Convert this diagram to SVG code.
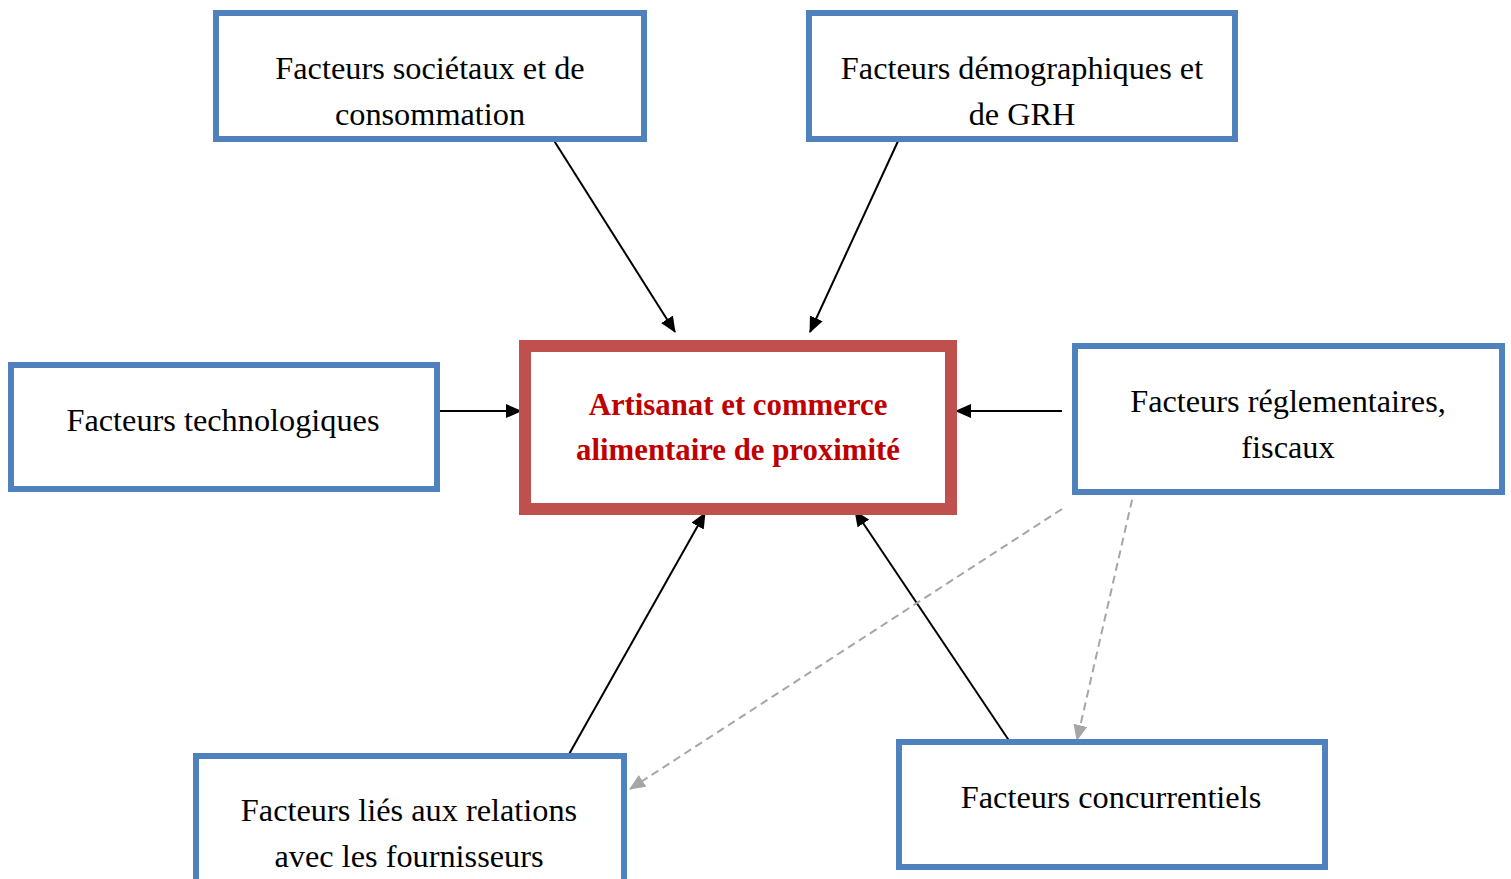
<svg xmlns="http://www.w3.org/2000/svg" width="1511" height="879" viewBox="0 0 1511 879">
<defs>
<style>
.box{fill:#fff;stroke:#4F81BD;stroke-width:6}
.main{fill:#fff;stroke:#C0504D;stroke-width:12}
.t{font-family:"Liberation Serif","DejaVu Serif",serif;font-size:32.3px;fill:#000;text-anchor:middle}
.tm{font-family:"Liberation Serif","DejaVu Serif",serif;font-size:30.8px;font-weight:bold;fill:#C00000;text-anchor:middle}
.c{stroke:#000;stroke-width:2;fill:none;marker-end:url(#ah)}
.d{stroke:#A6A6A6;stroke-width:2;fill:none;stroke-dasharray:8 5;marker-end:url(#ahg)}
</style>
<marker id="ah" markerUnits="userSpaceOnUse" markerWidth="16" markerHeight="14" refX="15" refY="7" orient="auto"><path d="M0,0 L16,7 L0,14 Z" fill="#000"/></marker>
<marker id="ahg" markerUnits="userSpaceOnUse" markerWidth="16" markerHeight="14" refX="15" refY="7" orient="auto"><path d="M0,0 L16,7 L0,14 Z" fill="#A6A6A6"/></marker>
</defs>
<rect width="1511" height="879" fill="#fff"/>
<g id="connectors">
<line class="c" x1="553" y1="139" x2="675" y2="332"/>
<line class="c" x1="899" y1="139" x2="810" y2="332"/>
<line class="c" x1="440" y1="411" x2="521" y2="411"/>
<line class="c" x1="1062" y1="411" x2="956" y2="411"/>
<line class="c" x1="568" y1="756" x2="705" y2="513"/>
<line class="c" x1="1010" y1="742" x2="855" y2="511"/>
<line class="d" x1="1062" y1="509" x2="630" y2="789"/>
<line class="d" x1="1135" y1="487" x2="1077" y2="740"/>
</g>
<g id="n-societaux">
<rect class="box" x="216" y="13" width="428" height="126"/>
<text class="t" x="430" y="79">Facteurs sociétaux et de</text>
<text class="t" x="430" y="125">consommation</text>
</g>
<g id="n-demographiques">
<rect class="box" x="809" y="13" width="426" height="126"/>
<text class="t" x="1022" y="79">Facteurs démographiques et</text>
<text class="t" x="1022" y="125">de GRH</text>
</g>
<g id="n-technologiques">
<rect class="box" x="11" y="365" width="426" height="124"/>
<text class="t" x="223" y="431">Facteurs technologiques</text>
</g>
<g id="n-central">
<rect class="main" x="525" y="346" width="426" height="163"/>
<text class="tm" x="738" y="415">Artisanat et commerce</text>
<text class="tm" x="738" y="460">alimentaire de proximité</text>
</g>
<g id="n-reglementaires">
<rect class="box" x="1075" y="346" width="427" height="146"/>
<text class="t" x="1288" y="412">Facteurs réglementaires,</text>
<text class="t" x="1288" y="458">fiscaux</text>
</g>
<g id="n-fournisseurs">
<rect class="box" x="196" y="756" width="428" height="126"/>
<text class="t" x="409" y="821">Facteurs liés aux relations</text>
<text class="t" x="409" y="867">avec les fournisseurs</text>
</g>
<g id="n-concurrentiels">
<rect class="box" x="899" y="742" width="426" height="125"/>
<text class="t" x="1111" y="808">Facteurs concurrentiels</text>
</g>
</svg>
